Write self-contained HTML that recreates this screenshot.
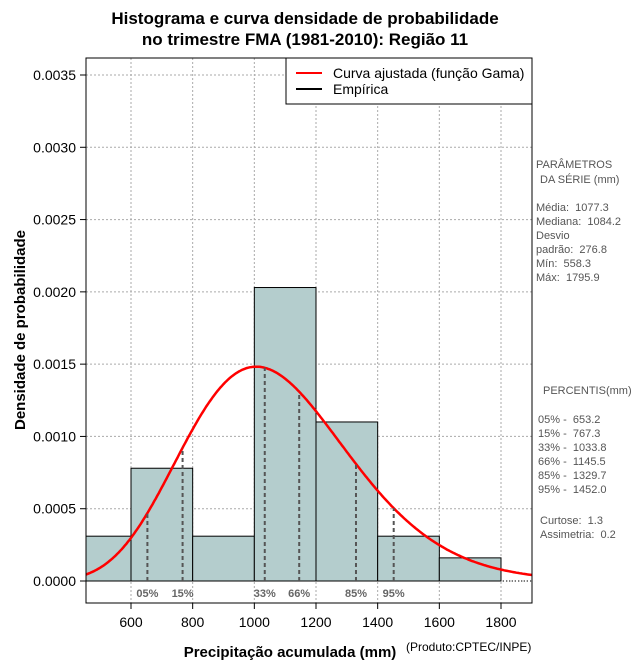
<!DOCTYPE html>
<html><head><meta charset="utf-8"><style>
body{margin:0;background:#fff;}
svg text{font-family:"Liberation Sans",sans-serif;white-space:pre;}
</style></head><body>
<svg id="c" width="640" height="660" xmlns="http://www.w3.org/2000/svg">
<text x="305" y="24" text-anchor="middle" font-size="17" font-weight="bold">Histograma e curva densidade de probabilidade</text>
<text x="305" y="45" text-anchor="middle" font-size="17" font-weight="bold">no trimestre FMA (1981-2010): Região 11</text>
<g id="plot"></g>
<text x="290" y="657" text-anchor="middle" font-size="15" font-weight="bold">Precipitação acumulada (mm)</text>
<text x="406" y="651" font-size="12">(Produto:CPTEC/INPE)</text>
<text transform="translate(25,330) rotate(-90)" text-anchor="middle" font-size="15" font-weight="bold">Densidade de probabilidade</text>
<g font-size="11" fill="#555">
<text x="536" y="168">PARÂMETROS</text><text x="540" y="183">DA SÉRIE (mm)</text>
<text x="536" y="211">Média:  1077.3</text><text x="536" y="225">Mediana:  1084.2</text>
<text x="536" y="239">Desvio</text><text x="536" y="253">padrão:  276.8</text>
<text x="536" y="267">Mín:  558.3</text><text x="536" y="281">Máx:  1795.9</text>
<text x="543" y="394">PERCENTIS(mm)</text>
<text x="538" y="423">05% -  653.2</text><text x="538" y="437">15% -  767.3</text>
<text x="538" y="451">33% -  1033.8</text><text x="538" y="465">66% -  1145.5</text>
<text x="538" y="479">85% -  1329.7</text><text x="538" y="493">95% -  1452.0</text>
<text x="540" y="524">Curtose:  1.3</text><text x="540" y="538">Assimetria:  0.2</text>
</g>
</svg>
<script>
const binStarts=[400,600,800,1000,1200,1400,1600];
const binDensity=[0.00031,0.00078,0.00031,0.00203,0.00110,0.00031,0.00016];
const xTicks=[600,800,1000,1200,1400,1600,1800];
const yTicks=[0,0.0005,0.001,0.0015,0.002,0.0025,0.003,0.0035];
const pctLabels=["05%","15%","33%","66%","85%","95%"];
const pctValues=[653.2,767.3,1033.8,1145.5,1329.7,1452.0];
const meanVal=1077.3, sdVal=276.8;

const L=86,R=532,T=58,B=603;
const X=v=>131+(v-600)*(370/1200);
const Y=v=>581-v*(506/0.0035);
const ns="http://www.w3.org/2000/svg";
const g=document.getElementById('plot');
function mk(t,a,p){const e=document.createElementNS(ns,t);for(const k in a)e.setAttribute(k,a[k]);(p||g).appendChild(e);return e;}
const k=(meanVal/sdVal)**2, th=sdVal*sdVal/meanVal;
function lgamma(z){const c=[76.18009172947146,-86.50532032941677,24.01409824083091,-1.231739572450155,0.1208650973866179e-2,-0.5395239384953e-5];let x=z,y=z,t=x+5.5;t-=(x+0.5)*Math.log(t);let s=1.000000000190015;for(let j=0;j<6;j++)s+=c[j]/++y;return -t+Math.log(2.5066282746310005*s/x);}
const dens=x=>Math.exp((k-1)*Math.log(x)-x/th-k*Math.log(th)-lgamma(k));
xTicks.forEach(v=>{const l=mk('line',{x1:X(v),x2:X(v),y1:T,y2:B,stroke:'#aaa','stroke-dasharray':'2,2'});});
yTicks.forEach(v=>{const l=mk('line',{x1:L,x2:R,y1:Y(v),y2:Y(v),stroke:'#aaa','stroke-dasharray':'2,2'});});
const cp=mk('clipPath',{id:'cp'});mk('rect',{x:L,y:T,width:R-L,height:B-T},cp);
const hg=mk('g',{'clip-path':'url(#cp)'});
binStarts.forEach((s,i)=>{const r=mk('rect',{x:X(s),y:Y(binDensity[i]),width:X(s+200)-X(s),height:Y(0)-Y(binDensity[i]),fill:'#b4cdcd',stroke:'#000','stroke-width':1},hg);

});
mk('line',{x1:L,x2:R,y1:Y(0),y2:Y(0),stroke:'#000','stroke-dasharray':'1,2'});
pctValues.forEach((v,i)=>{const l=mk('line',{x1:X(v),x2:X(v),y1:Y(0),y2:Y(dens(v)),stroke:'#555','stroke-width':2,'stroke-dasharray':'4,3'});


const t=mk('text',{x:X(v),y:597,'text-anchor':'middle','font-size':11,'font-weight':'bold',fill:'#666'});t.textContent=pctLabels[i];

});
let d='';for(let x=440;x<=1920;x+=5){d+=(d?'L':'M')+X(x).toFixed(1)+','+Y(dens(x)).toFixed(1);}
const cv=mk('path',{d:d,fill:'none',stroke:'#f00','stroke-width':2.5},hg);


mk('rect',{x:L,y:T,width:R-L,height:B-T,fill:'none',stroke:'#000'});
xTicks.forEach(v=>{mk('line',{x1:X(v),x2:X(v),y1:B,y2:B+6,stroke:'#000'});const t=mk('text',{x:X(v),y:627,'text-anchor':'middle','font-size':14});t.textContent=v;

});
yTicks.forEach(v=>{mk('line',{x1:L-6,x2:L,y1:Y(v),y2:Y(v),stroke:'#000'});const t=mk('text',{x:L-10,y:Y(v)+5,'text-anchor':'end','font-size':14});t.textContent=v.toFixed(4);

});
const lg=mk('g',{});
mk('rect',{x:286,y:58,width:246,height:46,fill:'#fff',stroke:'#000'},lg);
mk('line',{x1:296,x2:322,y1:73,y2:73,stroke:'#f00','stroke-width':2},lg);
mk('line',{x1:296,x2:322,y1:89,y2:89,stroke:'#000','stroke-width':2},lg);
let t1=mk('text',{x:333,y:78,'font-size':14},lg);t1.textContent='Curva ajustada (função Gama)';
let t2=mk('text',{x:333,y:94,'font-size':14},lg);t2.textContent='Empírica';
</script>
</body></html>
